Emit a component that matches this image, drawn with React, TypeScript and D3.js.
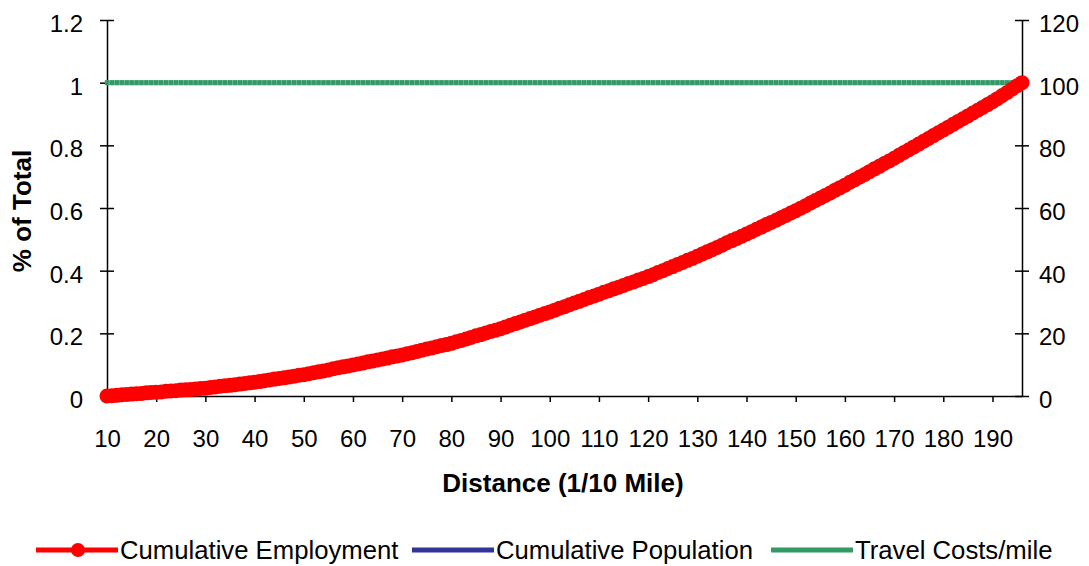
import { useEffect, useRef } from "react"
import * as d3 from "d3"

// Distance categories (1/10 mile), one point per unit from 10 to 196
const distances = d3.range(10, 197)

// Cumulative employment share
const cumulativeEmployment = [
  0.0, 0.001, 0.002, 0.004, 0.005, 0.006, 0.007, 0.008, 0.01, 0.011,
  0.012, 0.013, 0.015, 0.016, 0.017, 0.019, 0.02, 0.021, 0.022, 0.024,
  0.025, 0.027, 0.029, 0.031, 0.033, 0.034, 0.036, 0.038, 0.04, 0.042,
  0.044, 0.046, 0.049, 0.051, 0.054, 0.056, 0.058, 0.061, 0.063, 0.066,
  0.068, 0.071, 0.074, 0.077, 0.08, 0.083, 0.087, 0.09, 0.093, 0.096,
  0.099, 0.102, 0.105, 0.109, 0.112, 0.115, 0.118, 0.121, 0.125, 0.128,
  0.131, 0.135, 0.138, 0.142, 0.146, 0.15, 0.153, 0.157, 0.161, 0.164,
  0.168, 0.173, 0.177, 0.182, 0.187, 0.192, 0.196, 0.201, 0.206, 0.21,
  0.215, 0.22, 0.226, 0.231, 0.236, 0.242, 0.247, 0.252, 0.258, 0.263,
  0.268, 0.274, 0.28, 0.285, 0.291, 0.297, 0.302, 0.308, 0.314, 0.319,
  0.325, 0.331, 0.336, 0.342, 0.347, 0.353, 0.359, 0.364, 0.37, 0.375,
  0.381, 0.387, 0.394, 0.4, 0.407, 0.413, 0.42, 0.426, 0.433, 0.439,
  0.446, 0.453, 0.46, 0.467, 0.474, 0.481, 0.489, 0.496, 0.503, 0.51,
  0.517, 0.524, 0.532, 0.539, 0.547, 0.554, 0.561, 0.569, 0.576, 0.584,
  0.591, 0.599, 0.607, 0.616, 0.624, 0.632, 0.64, 0.648, 0.657, 0.665,
  0.673, 0.682, 0.69, 0.699, 0.707, 0.716, 0.725, 0.733, 0.742, 0.75,
  0.759, 0.768, 0.777, 0.786, 0.795, 0.804, 0.813, 0.822, 0.831, 0.84,
  0.849, 0.858, 0.867, 0.876, 0.885, 0.894, 0.903, 0.912, 0.921, 0.93,
  0.939, 0.949, 0.959, 0.969, 0.98, 0.99, 1.0,
]

// Cumulative population: hidden under the employment markers
const cumulativePopulation = [
  0.0, 0.001, 0.002, 0.003, 0.004, 0.005, 0.006, 0.008, 0.009, 0.01,
  0.011, 0.012, 0.014, 0.015, 0.016, 0.018, 0.019, 0.02, 0.021, 0.023,
  0.024, 0.026, 0.028, 0.03, 0.032, 0.033, 0.035, 0.037, 0.039, 0.041,
  0.043, 0.045, 0.048, 0.05, 0.053, 0.055, 0.057, 0.06, 0.062, 0.065,
  0.067, 0.07, 0.073, 0.076, 0.079, 0.082, 0.086, 0.089, 0.092, 0.095,
  0.098, 0.101, 0.104, 0.108, 0.111, 0.114, 0.117, 0.12, 0.124, 0.127,
  0.13, 0.134, 0.137, 0.141, 0.145, 0.149, 0.152, 0.156, 0.16, 0.163,
  0.167, 0.172, 0.176, 0.181, 0.186, 0.191, 0.195, 0.2, 0.205, 0.209,
  0.214, 0.219, 0.225, 0.23, 0.235, 0.241, 0.246, 0.251, 0.257, 0.262,
  0.267, 0.273, 0.279, 0.284, 0.29, 0.296, 0.301, 0.307, 0.313, 0.318,
  0.324, 0.33, 0.335, 0.341, 0.346, 0.352, 0.358, 0.363, 0.369, 0.374,
  0.38, 0.386, 0.393, 0.399, 0.406, 0.412, 0.419, 0.425, 0.432, 0.438,
  0.445, 0.452, 0.459, 0.466, 0.473, 0.48, 0.488, 0.495, 0.502, 0.509,
  0.516, 0.523, 0.531, 0.538, 0.546, 0.553, 0.56, 0.568, 0.575, 0.583,
  0.59, 0.598, 0.606, 0.615, 0.623, 0.631, 0.639, 0.647, 0.656, 0.664,
  0.672, 0.681, 0.689, 0.698, 0.706, 0.715, 0.724, 0.732, 0.741, 0.749,
  0.758, 0.767, 0.776, 0.785, 0.794, 0.803, 0.812, 0.821, 0.83, 0.839,
  0.848, 0.857, 0.866, 0.875, 0.884, 0.893, 0.902, 0.911, 0.92, 0.929,
  0.938, 0.948, 0.958, 0.968, 0.979, 0.989, 1.0,
]

// Travel costs per mile (right axis), flat at 100
const travelCosts = [
  100, 100, 100, 100, 100, 100, 100, 100, 100, 100, 100, 100, 100, 100, 100, 100, 100, 100, 100, 100,
  100, 100, 100, 100, 100, 100, 100, 100, 100, 100, 100, 100, 100, 100, 100, 100, 100, 100, 100, 100,
  100, 100, 100, 100, 100, 100, 100, 100, 100, 100, 100, 100, 100, 100, 100, 100, 100, 100, 100, 100,
  100, 100, 100, 100, 100, 100, 100, 100, 100, 100, 100, 100, 100, 100, 100, 100, 100, 100, 100, 100,
  100, 100, 100, 100, 100, 100, 100, 100, 100, 100, 100, 100, 100, 100, 100, 100, 100, 100, 100, 100,
  100, 100, 100, 100, 100, 100, 100, 100, 100, 100, 100, 100, 100, 100, 100, 100, 100, 100, 100, 100,
  100, 100, 100, 100, 100, 100, 100, 100, 100, 100, 100, 100, 100, 100, 100, 100, 100, 100, 100, 100,
  100, 100, 100, 100, 100, 100, 100, 100, 100, 100, 100, 100, 100, 100, 100, 100, 100, 100, 100, 100,
  100, 100, 100, 100, 100, 100, 100, 100, 100, 100, 100, 100, 100, 100, 100, 100, 100, 100, 100, 100,
  100, 100, 100, 100, 100, 100, 100,
]

const xTickLabels = [10, 20, 30, 40, 50, 60, 70, 80, 90, 100, 110, 120, 130, 140, 150, 160, 170, 180, 190]
const leftTicks = [0, 0.2, 0.4, 0.6, 0.8, 1, 1.2]
const rightTicks = [0, 20, 40, 60, 80, 100, 120]

const seriesNames = ["Cumulative Employment", "Cumulative Population", "Travel Costs/mile"]

const RED = "#ff0000"
const BLUE = "#333399"
const GREEN = "#339966"
const FONT = "Arial, 'Liberation Sans', sans-serif"

export default function App() {
  const svgRef = useRef<SVGSVGElement>(null)

  useEffect(() => {
    if (!svgRef.current) return
    const svg = d3.select(svgRef.current)
    svg.selectAll("*").remove()

    const width = 1089
    const height = 566
    const plot = { left: 107, right: 1022, top: 20, bottom: 396 }

    const x = d3.scaleLinear().domain([10, 196]).range([plot.left, plot.right])
    const yLeft = d3.scaleLinear().domain([0, 1.2]).range([plot.bottom, plot.top])
    const yRight = d3.scaleLinear().domain([0, 120]).range([plot.bottom, plot.top])

    svg.attr("width", width).attr("height", height)
    svg.append("rect").attr("width", width).attr("height", height).attr("fill", "#fff")

    // Bottom axis
    const xAxis = svg
      .append("g")
      .attr("transform", `translate(0, ${plot.bottom})`)
      .call(d3.axisBottom(x).tickValues(xTickLabels).tickSizeInner(6).tickSizeOuter(0).tickPadding(28))
    xAxis.select(".domain").attr("stroke", "#000").attr("stroke-width", 1.5)
    xAxis.selectAll(".tick line").attr("stroke", "#000").attr("stroke-width", 1.5)
    xAxis
      .selectAll(".tick text")
      .attr("font-family", FONT)
      .attr("font-size", 24)
      .attr("fill", "#000")

    // Left axis, ticks crossing the line
    const lAxis = svg
      .append("g")
      .attr("transform", `translate(${plot.left}, 0)`)
      .call(
        d3
          .axisLeft(yLeft)
          .tickValues(leftTicks)
          .tickSizeOuter(0)
          .tickSizeInner(7)
          .tickPadding(17)
          .tickFormat((d) => d3.format("~g")(d as number)),
      )
    lAxis.select(".domain").attr("stroke", "#000").attr("stroke-width", 1.5)
    lAxis.selectAll(".tick line").attr("x1", 7).attr("x2", -7).attr("stroke", "#000").attr("stroke-width", 1.5)
    lAxis
      .selectAll(".tick text")
      .attr("dy", "0.48em")
      .attr("font-family", FONT)
      .attr("font-size", 24)
      .attr("fill", "#000")

    // Right axis
    const rAxis = svg
      .append("g")
      .attr("transform", `translate(${plot.right}, 0)`)
      .call(d3.axisRight(yRight).tickValues(rightTicks).tickSizeOuter(0).tickSizeInner(7).tickPadding(10))
    rAxis.select(".domain").attr("stroke", "#000").attr("stroke-width", 1.5)
    rAxis.selectAll(".tick line").attr("x1", -7).attr("x2", 7).attr("stroke", "#000").attr("stroke-width", 1.5)
    rAxis
      .selectAll(".tick text")
      .attr("dy", "0.48em")
      .attr("font-family", FONT)
      .attr("font-size", 24)
      .attr("fill", "#000")

    // Axis titles
    svg
      .append("text")
      .attr("x", 563)
      .attr("y", 492)
      .attr("text-anchor", "middle")
      .attr("font-family", FONT)
      .attr("font-size", 26)
      .attr("font-weight", "bold")
      .text("Distance (1/10 Mile)")

    svg
      .append("text")
      .attr("transform", "translate(31, 211) rotate(-90)")
      .attr("text-anchor", "middle")
      .attr("font-family", FONT)
      .attr("font-size", 26)
      .attr("font-weight", "bold")
      .text("% of Total")

    // Travel costs (green, square markers)
    const greenLine = d3
      .line<number>()
      .x((_, i) => x(distances[i]))
      .y((d) => yRight(d))
    svg
      .append("path")
      .datum(travelCosts)
      .attr("fill", "none")
      .attr("stroke", "#8cc9a9")
      .attr("stroke-width", 5)
      .attr("d", greenLine)
    svg
      .append("g")
      .selectAll("rect")
      .data(travelCosts)
      .join("rect")
      .attr("x", (_, i) => x(distances[i]) - 2.2)
      .attr("y", (d) => yRight(d) - 2.5)
      .attr("width", 4.4)
      .attr("height", 5)
      .attr("fill", GREEN)

    // Population (blue), mostly hidden
    const valueLine = d3
      .line<number>()
      .x((_, i) => x(distances[i]))
      .y((d) => yLeft(d))
    svg
      .append("path")
      .datum(cumulativePopulation)
      .attr("fill", "none")
      .attr("stroke", BLUE)
      .attr("stroke-width", 3)
      .attr("transform", "translate(0, 2)")
      .attr("d", valueLine)

    // Employment (red, circle markers)
    svg
      .append("path")
      .datum(cumulativeEmployment)
      .attr("fill", "none")
      .attr("stroke", RED)
      .attr("stroke-width", 3)
      .attr("d", valueLine)
    svg
      .append("g")
      .selectAll("circle")
      .data(cumulativeEmployment)
      .join("circle")
      .attr("cx", (_, i) => x(distances[i]))
      .attr("cy", (d) => yLeft(d))
      .attr("r", 7.5)
      .attr("fill", RED)

    // Legend
    const legendY = 550
    const legendItems = [
      { name: seriesNames[0], color: RED, x0: 36, marker: true },
      { name: seriesNames[1], color: BLUE, x0: 412, marker: false },
      { name: seriesNames[2], color: GREEN, x0: 771, marker: false },
    ]
    const lg = svg.append("g").selectAll("g").data(legendItems).join("g")
    lg.append("line")
      .attr("x1", (d) => d.x0)
      .attr("x2", (d) => d.x0 + 82)
      .attr("y1", legendY)
      .attr("y2", legendY)
      .attr("stroke", (d) => d.color)
      .attr("stroke-width", 5)
    lg.filter((d) => d.marker)
      .append("circle")
      .attr("cx", (d) => d.x0 + 42)
      .attr("cy", legendY)
      .attr("r", 7)
      .attr("fill", RED)
    lg.append("text")
      .attr("x", (d) => d.x0 + 84)
      .attr("y", legendY + 9)
      .attr("font-family", FONT)
      .attr("font-size", 25.7)
      .attr("fill", "#000")
      .text((d) => d.name)
  }, [])

  return (
    <div style={{ position: "absolute", left: 0, top: 0 }}>
      <svg ref={svgRef} style={{ display: "block" }} />
    </div>
  )
}
